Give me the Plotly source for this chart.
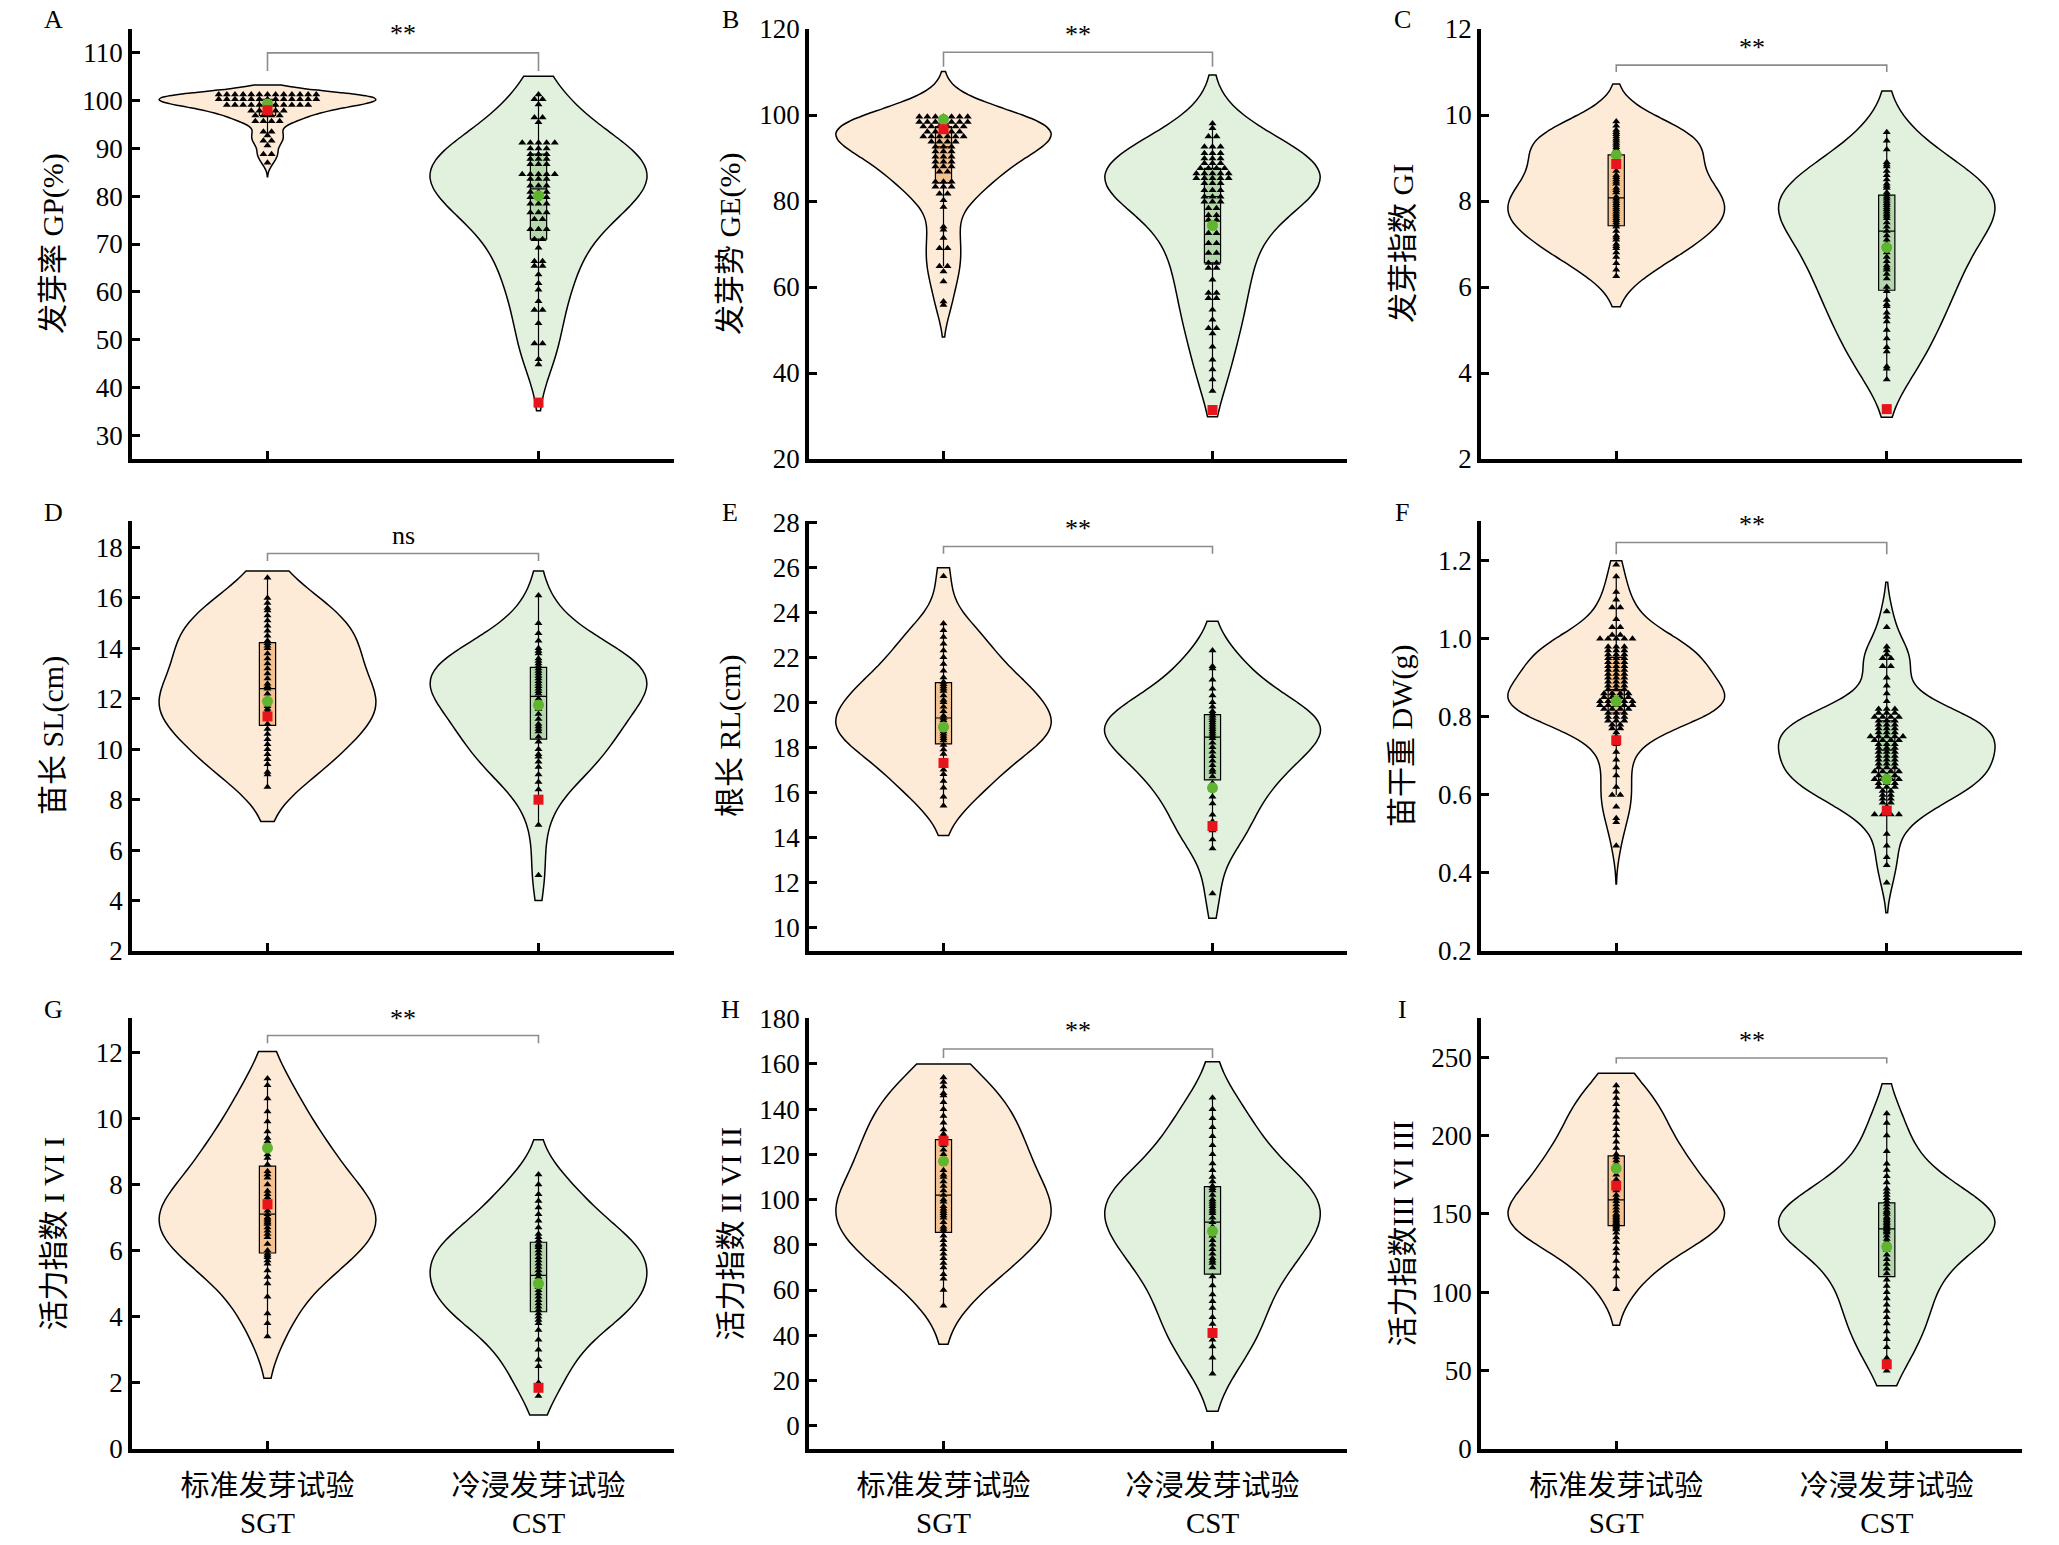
import plotly.graph_objects as go
from collections import Counter

# ---------------- data ----------------
A_SGT = [101.3]*13 + [100.3]*13 + [99.1]*11 + [97.9]*5 + [96.9]*4 + [95.7]*4 + [93.5]*2 + [92.7] + [91.6]*2 + [90.6] + [88.8]*2 + [87.0]
A_CST = ([101.3] + [100.3]*2 + [99.2] + [96.5]*2 + [95.5] + [91.2]*5 + [90.0]*3 + [88.8]*3 + [87.8]*3 + [86.7]*3
         + [84.6]*5 + [83.6]*3 + [82.2]*3 + [80.9]*3 + [79.8]*3 + [78.4]*3 + [76.6]*3 + [75.2]*2 + [73.1]*3 + [71.0]*2
         + [69.2] + [66.4]*2 + [65.4]*2 + [63.6] + [61.8] + [60.4] + [58.0] + [56.2]*2 + [53.4] + [49.2]*2 + [45.9] + [44.8])
B_SGT = ([99.6]*7 + [98.4]*7 + [97.3]*6 + [96.1]*5 + [95.0]*6 + [93.8]*4 + [92.6]*3 + [91.5]*3 + [90.3]*3 + [89.1]*3
         + [88.0]*3 + [86.8]*2 + [84.5]*3 + [83.3]*3 + [81.7]*2 + [80.2] + [78.6] + [74.0] + [73.3] + [71.4] + [69.0]*2
         + [64.8]*2 + [63.6] + [61.3] + [56.6] + [55.8])
B_CST = ([98.0] + [96.9] + [95.0]*2 + [92.6]*3 + [91.1]*3 + [89.9]*3 + [88.8]*3 + [87.6]*4 + [86.4]*5 + [85.3]*5
         + [84.1]*3 + [82.5]*3 + [81.0]*3 + [79.8]*3 + [78.3]*2 + [76.7]*2 + [75.6]*2 + [72.5]*2 + [70.2]*2 + [67.9]*2
         + [65.6]*2 + [64.4]*2 + [61.7] + [58.6]*2 + [57.4]*2 + [54.7] + [52.4] + [50.4]*2 + [49.2] + [46.1] + [43.1]
         + [40.8] + [38.5] + [35.8])
C_SGT = [9.85, 9.75, 9.65, 9.6, 9.55, 9.5, 9.45, 9.4, 9.35, 9.3, 9.25, 9.2, 9.1, 9.05, 8.9, 8.8, 8.7, 8.6, 8.55, 8.5,
         8.45, 8.4, 8.3, 8.25, 8.2, 8.1, 8.05, 8.0, 7.95, 7.9, 7.85, 7.8, 7.75, 7.7, 7.65, 7.6, 7.55, 7.5, 7.45, 7.4,
         7.3, 7.2, 7.15, 7.1, 7.0, 6.95, 6.9, 6.8, 6.7, 6.55, 6.4, 6.25]
C_CST = [9.6, 9.4, 9.2, 8.9, 8.85, 8.8, 8.7, 8.6, 8.5, 8.4, 8.35, 8.3, 8.2, 8.15, 8.1, 8.05, 8.0, 7.95, 7.9, 7.85,
         7.8, 7.75, 7.7, 7.65, 7.6, 7.5, 7.4, 7.3, 7.2, 7.1, 7.0, 6.9, 6.8, 6.7, 6.6, 6.5, 6.45, 6.4, 6.3, 6.2, 6.0,
         5.9, 5.7, 5.6, 5.55, 5.4, 5.3, 5.2, 5.0, 4.8, 4.6, 4.5, 4.15, 4.1, 3.85]
D_SGT = [16.8, 16.0, 15.8, 15.6, 15.5, 15.3, 15.1, 14.9, 14.7, 14.5, 14.3, 14.2, 14.1, 14.0, 13.8, 13.6, 13.4, 13.2,
         13.0, 12.8, 12.6, 12.5, 12.4, 12.2, 12.0, 11.9, 11.8, 11.7, 11.6, 11.5, 11.4, 11.3, 11.2, 11.0, 10.8, 10.6,
         10.4, 10.2, 10.0, 9.8, 9.6, 9.4, 9.1, 9.0, 8.5]
D_CST = [16.1, 15.0, 14.6, 14.3, 14.0, 13.9, 13.8, 13.6, 13.5, 13.4, 13.3, 13.2, 13.1, 13.0, 12.9, 12.8, 12.7, 12.6,
         12.5, 12.4, 12.3, 12.2, 12.0, 11.9, 11.8, 11.6, 11.4, 11.2, 11.0, 10.9, 10.8, 10.7, 10.5, 10.3, 10.0, 9.8,
         9.7, 9.5, 9.3, 9.0, 8.7, 8.4, 7.0, 5.0]
E_SGT = [25.6, 23.5, 23.2, 22.9, 22.6, 22.3, 22.0, 21.7, 21.4, 21.1, 20.9, 20.8, 20.7, 20.6, 20.5, 20.3, 20.1, 20.0,
         19.8, 19.6, 19.4, 19.3, 19.2, 19.1, 19.0, 18.9, 18.8, 18.7, 18.6, 18.5, 18.4, 18.3, 18.1, 17.9, 17.7, 17.4,
         17.2, 17.0, 16.8, 16.5, 16.2, 15.8, 15.4]
E_CST = [22.3, 21.6, 21.5, 21.0, 20.6, 20.3, 20.0, 19.8, 19.6, 19.5, 19.4, 19.3, 19.2, 19.1, 19.0, 18.9, 18.8, 18.7,
         18.6, 18.5, 18.4, 18.2, 18.0, 17.8, 17.6, 17.4, 17.2, 17.0, 16.9, 16.7, 16.4, 16.1, 15.8, 15.5, 15.0, 14.7,
         14.3, 13.9, 13.5, 11.5]
F_SGT = ([1.19, 1.16, 1.12, 1.10] + [1.08]*2 + [1.05] + [1.03]*2 + [1.01]*2 + [1.00]*5 + [0.98]*3 + [0.97]*3
         + [0.96]*3 + [0.95]*3 + [0.94]*3 + [0.93]*3 + [0.92]*3 + [0.91]*3 + [0.90]*3 + [0.89]*3 + [0.88]*3 + [0.87]*3
         + [0.86]*4 + [0.85]*4 + [0.84]*5 + [0.83]*5 + [0.82]*4 + [0.81]*3 + [0.80]*3 + [0.79]*3 + [0.78]*2 + [0.77]*2
         + [0.76, 0.75, 0.73, 0.71, 0.69, 0.67, 0.65, 0.62] + [0.60]*2 + [0.57, 0.54, 0.53, 0.47])
F_CST = ([1.07, 1.03, 0.98, 0.97, 0.96] + [0.95]*2 + [0.93]*2 + [0.90, 0.88, 0.86, 0.84] + [0.82]*3 + [0.81]*3
         + [0.80]*4 + [0.79]*3 + [0.78]*3 + [0.77]*3 + [0.76]*3 + [0.75]*5 + [0.74]*4 + [0.73]*3 + [0.72]*3 + [0.71]*3
         + [0.70]*3 + [0.69]*3 + [0.68]*3 + [0.67]*3 + [0.66]*4 + [0.65]*3 + [0.64]*4 + [0.63]*3 + [0.62]*3 + [0.61]*2
         + [0.60]*2 + [0.59]*2 + [0.58]*2 + [0.57] + [0.55]*4 + [0.50, 0.47, 0.44, 0.42, 0.375])
G_SGT = [11.2, 11.0, 10.6, 10.2, 9.9, 9.6, 9.4, 9.3, 9.1, 8.9, 8.8, 8.6, 8.4, 8.3, 8.2, 8.0, 7.8, 7.7, 7.6, 7.5, 7.4,
         7.3, 7.2, 7.1, 7.0, 6.95, 6.9, 6.85, 6.8, 6.7, 6.6, 6.5, 6.4, 6.2, 6.0, 5.9, 5.85, 5.8, 5.7, 5.6, 5.4, 5.2,
         5.0, 4.6, 4.1, 3.8, 3.4]
G_CST = [8.3, 8.0, 7.7, 7.5, 7.3, 7.1, 6.9, 6.7, 6.5, 6.4, 6.3, 6.2, 6.15, 6.1, 6.0, 5.9, 5.8, 5.7, 5.6, 5.5, 5.4,
         5.3, 5.2, 5.1, 5.0, 4.9, 4.8, 4.7, 4.6, 4.5, 4.4, 4.3, 4.2, 4.1, 4.0, 3.9, 3.8, 3.6, 3.3, 3.0, 2.7, 2.5,
         2.0, 1.6]
H_SGT = [154, 152, 150, 147, 146, 143, 140, 137, 134, 131, 129, 128, 126, 124, 122, 120, 118, 116, 113, 111, 110,
         108, 106, 104, 102, 100, 99, 97, 96, 95, 94, 93, 92, 90, 88, 87, 86, 84, 82, 80, 78, 76, 74, 72, 70, 67, 65,
         60, 53]
H_CST = [145, 140, 136, 132, 128, 124, 120, 116, 113, 110, 108, 106, 105, 104, 102, 100, 99, 98, 97, 96, 95, 94,
         92, 90, 88, 86, 84, 82, 80, 78, 76, 74, 73, 72, 70, 66, 62, 58, 55, 52, 48, 45, 42, 38, 35, 30, 23]
I_SGT = [232, 228, 224, 220, 216, 212, 208, 204, 200, 196, 192, 188, 186, 184, 182, 180, 178, 175, 172, 170, 168,
         165, 162, 160, 158, 156, 154, 152, 150, 149, 148, 147, 146, 145, 144, 143, 142, 141, 140, 138, 135, 132,
         128, 125, 120, 115, 110, 102]
I_CST = [214, 208, 200, 190, 182, 178, 174, 170, 166, 164, 162, 160, 158, 156, 154, 152, 151, 150, 148, 147, 146,
         145, 144, 143, 142, 141, 140, 139, 138, 136, 134, 132, 130, 127, 124, 121, 118, 115, 112, 108, 104, 100, 96,
         92, 88, 84, 80, 75, 70, 65, 58, 50]

mean_SGT = [99.3, 99.0, 9.07, 11.9, 18.9, 0.84, 9.1, 117, 179]
mean_CST = [80.1, 74.3, 6.92, 11.75, 16.2, 0.64, 5.0, 86, 129]
check_SGT = [98.0, 96.7, 8.86, 11.3, 17.3, 0.74, 7.4, 126, 168]
check_CST = [36.8, 31.4, 3.16, 8.0, 14.5, 0.56, 1.85, 41, 54]

# density span of each violin (low, high)
span_SGT = [[84.1, 103.3], [48.4, 110.1], [5.54, 10.72], [7.13, 17.07], [14.08, 25.97],
            [0.372, 1.2], [2.14, 12.02], [36, 160], [79, 239.7]]
span_CST = [[35.1, 105.1], [29.8, 109.3], [2.97, 10.56], [4.0, 17.07], [10.4, 23.6],
            [0.298, 1.145], [1.03, 9.35], [6.4, 160.9], [40.3, 233]]

panel_letters = ['A', 'B', 'C', 'D', 'E', 'F', 'G', 'H', 'I']
y_titles = ['发芽率 GP(%)', '发芽势 GE(%)', '发芽指数 GI', '苗长 SL(cm)', '根长 RL(cm)', '苗干重 DW(g)',
            '活力指数 I VI I', '活力指数 II VI II', '活力指数III VI III']
categories = ['标准发芽试验<br>SGT', '冷浸发芽试验<br>CST']
y_ranges = [[25, 115], [20, 120], [2, 12], [2, 19.05], [8.95, 28.05], [0.2, 1.302], [0, 13.03], [-10.3, 180.3], [0, 275]]
tick_start = [30, 20, 2, 2, 10, 0.2, 0, 0, 0]
tick_stop = [110, 120, 12, 18, 28, 1.2, 12, 180, 250]
tick_step = [10, 20, 2, 2, 2, 0.2, 2, 20, 50]
tick_fmt = ['d', 'd', 'd', 'd', 'd', '.1f', 'd', 'd', 'd']

sig_text = ['**', '**', '**', 'ns', '**', '**', '**', '**', '**']
sig_top = [110, 114.6, 11.16, 17.76, 26.92, 1.247, 12.5, 166.6, 249.5]
sig_drop = [106.2, 111.2, 11.0, 17.46, 26.6, 1.217, 12.27, 162.6, 246]
sig_label_y = [114.1, 118.8, 11.57, 18.46, 27.7, 1.293, 13.03, 174.8, 260.6]

SGT = [A_SGT, B_SGT, C_SGT, D_SGT, E_SGT, F_SGT, G_SGT, H_SGT, I_SGT]
CST = [A_CST, B_CST, C_CST, D_CST, E_CST, F_CST, G_CST, H_CST, I_CST]

# ---------------- styling ----------------
W, H = 2059, 1545
col_px = [(132, 674), (809, 1347), (1481, 2022)]
row_px = [(29, 459), (521, 951), (1018, 1449)]
FILL = ['#fdebd8', '#e1f1dd']
BOXFILL = ['rgba(240,180,120,0.75)', 'rgba(150,200,140,0.6)']
GREEN = '#5fb52f'
RED = '#e8141b'
SERIF = 'Liberation Serif, Noto Sans CJK SC, serif'


def stack_x(vals, center, step=0.03):
    cnt = Counter(vals)
    seen = {}
    xs = []
    for v in vals:
        k = cnt[v]
        i = seen.get(v, 0)
        seen[v] = i + 1
        xs.append(center + (i - (k - 1) / 2) * step)
    return xs


fig = go.Figure()
layout = dict(width=W, height=H, margin=dict(l=0, r=0, t=0, b=0, autoexpand=False), paper_bgcolor='white',
              plot_bgcolor='white', showlegend=False, violinmode='overlay')
annotations = []
shapes = []

for k in range(9):
    r, c = divmod(k, 3)
    xa = 'x' if k == 0 else f'x{k + 1}'
    ya = 'y' if k == 0 else f'y{k + 1}'
    groups = [(SGT[k], span_SGT[k]), (CST[k], span_CST[k])]
    for g, (vals, span) in enumerate(groups):
        fig.add_trace(go.Violin(
            x0=g, y=vals, xaxis=xa, yaxis=ya, width=0.8, scalemode='width',
            spanmode='manual', span=span, fillcolor=FILL[g],
            line=dict(color='black', width=1.5), points=False,
            box=dict(visible=True, width=0.075, fillcolor=BOXFILL[g], line=dict(color='black', width=1.2)),
            meanline=dict(visible=False), hoverinfo='skip', showlegend=False))
    for g, (vals, span) in enumerate(groups):
        fig.add_trace(go.Scatter(
            x=stack_x(vals, g), y=vals, xaxis=xa, yaxis=ya, mode='markers',
            marker=dict(symbol='triangle-up', size=7, color='black'),
            hoverinfo='skip', showlegend=False))
    fig.add_trace(go.Scatter(x=[0, 1], y=[mean_SGT[k], mean_CST[k]], xaxis=xa, yaxis=ya, mode='markers',
                             marker=dict(symbol='circle', size=11, color=GREEN), hoverinfo='skip'))
    fig.add_trace(go.Scatter(x=[0, 1], y=[check_SGT[k], check_CST[k]], xaxis=xa, yaxis=ya, mode='markers',
                             marker=dict(symbol='square', size=10, color=RED), hoverinfo='skip'))

    x0p, x1p = col_px[c]
    y0p, y1p = row_px[r]
    n = '' if k == 0 else str(k + 1)
    tv = []
    t = tick_start[k]
    while t <= tick_stop[k] + 1e-9:
        tv.append(round(t, 6))
        t += tick_step[k]
    layout['xaxis' + n] = dict(
        domain=[x0p / W, x1p / W], anchor=ya, range=[-0.5, 1.5], type='linear',
        showline=True, linecolor='black', linewidth=3.5, ticks='inside', ticklen=8, tickwidth=2.5,
        tickcolor='black', tickvals=[0, 1], ticktext=categories, showticklabels=(r == 2),
        ticklabelstandoff=8,
        tickfont=dict(family=SERIF, size=29, color='black'), showgrid=False, zeroline=False,
        automargin=False)
    layout['yaxis' + n] = dict(
        domain=[1 - y1p / H, 1 - y0p / H], anchor=xa, range=y_ranges[k],
        showline=True, linecolor='black', linewidth=3.5, ticks='inside', ticklen=8, tickwidth=2.5,
        tickcolor='black', tickvals=tv, tickformat=tick_fmt[k],
        tickfont=dict(family=SERIF, size=27, color='black'), showgrid=False, zeroline=False,
        automargin=False)

    # panel letter
    annotations.append(dict(text=panel_letters[k], xref='paper', yref='paper',
                            x=(x0p - 79) / W, y=1 - (y0p - 9) / H, xanchor='center', yanchor='middle',
                            showarrow=False, font=dict(family=SERIF, size=26, color='black')))
    # y title
    annotations.append(dict(text=y_titles[k], xref='paper', yref='paper', textangle=-90,
                            x=(x0p - 79) / W, y=1 - (y0p + y1p) / 2 / H, xanchor='center', yanchor='middle',
                            showarrow=False, font=dict(family=SERIF, size=30, color='black')))
    # significance bracket
    shapes.append(dict(type='path', xref=xa, yref=ya,
                       path=f'M 0,{sig_drop[k]} L 0,{sig_top[k]} L 1,{sig_top[k]} L 1,{sig_drop[k]}',
                       line=dict(color='#8c8c8c', width=1.6)))
    annotations.append(dict(text=sig_text[k], xref=xa, yref=ya, x=0.5, y=sig_label_y[k],
                            xanchor='center', yanchor='middle', showarrow=False,
                            font=dict(family=SERIF, size=26, color='black')))

layout['annotations'] = annotations
layout['shapes'] = shapes
fig.update_layout(**layout)
fig.write_html('out.html', config={'displayModeBar': False},
               post_script="document.body.style.margin='0';document.body.style.overflow='hidden';")
